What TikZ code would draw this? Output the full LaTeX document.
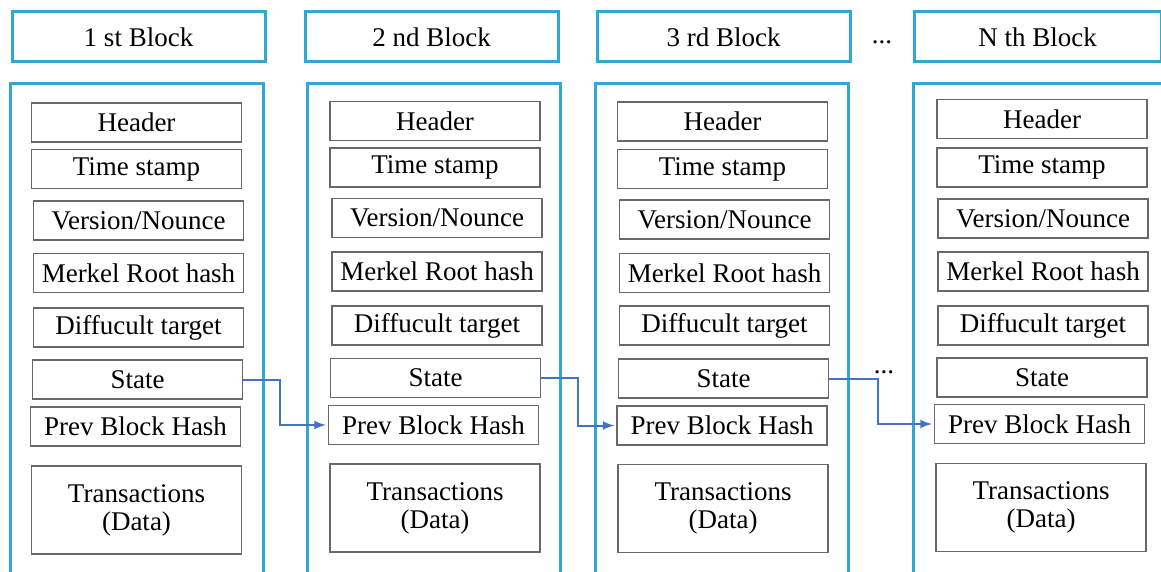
\documentclass[tikz,border=0pt]{standalone}
\usepackage{fontspec}
\setmainfont{Liberation Serif}
\usepackage{xcolor}
\usepackage{tikz}
\definecolor{blockblue}{RGB}{52,166,210}
\definecolor{fieldgray}{RGB}{105,105,105}
\definecolor{linkblue}{RGB}{68,114,196}
\tikzset{>=latex}

\begin{document}
\begin{tikzpicture}[x=0.5pt, y=-0.5pt, font=\rmfamily\fontsize{13.5}{14}\selectfont]
\tikzset{blockhead/.style={draw=blockblue, line width=1.5pt, minimum width=126.5pt, minimum height=25pt, inner sep=0pt}}
\tikzset{container/.style={draw=blockblue, line width=1.5pt, minimum width=126.5pt, minimum height=258pt, inner sep=0pt}}
\tikzset{field/.style={draw=fieldgray, line width=0.6pt, minimum width=105pt, minimum height=19.5pt, inner sep=1pt}}
\tikzset{txfield/.style={field, minimum height=44pt, align=center}}
\tikzset{link/.style={draw=linkblue, line width=1pt, ->, shorten >=1pt}}
    \useasboundingbox (0,0) rectangle (1161,572);
    \clip (0,0) rectangle (1161,572);

    \node[container] (box1) at (136.5,342) {};
    \node[blockhead] (head1) at (138.5,37) {1 st Block};
    \node[field] (hdr1) at (136.5,122.5) {Header};
    \node[field] (time1) at (136.5,169) {Time stamp};
    \node[field] (ver1) at (138.5,220.5) {Version/Nounce};
    \node[field] (merk1) at (138.5,273) {Merkel Root hash};
    \node[field] (diff1) at (138.5,327.5) {Diffucult target};
    \node[field] (state1) at (137.5,379.5) {State};
    \node[field] (prev1) at (135.5,426.5) {Prev Block Hash};
    \node[txfield] (tx1) at (136.5,510) {Transactions\\(Data)};

% % % % % % % % % % % % % % % % % % %
    \node[container] (box2) at (434,342) {};
    \node[blockhead] (head2) at (431.5,37) {2 nd Block};
    \node[field] (hdr2) at (435,121) {Header};
    \node[field] (time2) at (435,167.5) {Time stamp};
    \node[field] (ver2) at (437,218) {Version/Nounce};
    \node[field] (merk2) at (437,271.5) {Merkel Root hash};
    \node[field] (diff2) at (437,325.5) {Diffucult target};
    \node[field] (state2) at (435.5,378) {State};
    \node[field] (prev2) at (433.5,425) {Prev Block Hash};
    \node[txfield] (tx2) at (435,508) {Transactions\\(Data)};

% % % % % % % % % % % % % % % % % % %
    \node[container] (box3) at (721.5,342) {};
    \node[blockhead] (head3) at (723.5,37) {3 rd Block};
    \node[field] (hdr3) at (722.5,121.5) {Header};
    \node[field] (time3) at (722.5,169) {Time stamp};
    \node[field] (ver3) at (724.5,219.5) {Version/Nounce};
    \node[field] (merk3) at (724.5,273) {Merkel Root hash};
    \node[field] (diff3) at (724.5,325.5) {Diffucult target};
    \node[field] (state3) at (723.5,378.5) {State};
    \node[field] (prev3) at (722,425.5) {Prev Block Hash};
    \node[txfield] (tx3) at (723,508.5) {Transactions\\(Data)};

% % % % % % % % % % % % % % % % % % %
    \node[container] (boxN) at (1039.5,342) {};
    \node[blockhead, minimum width=123.5pt] (headN) at (1037.5,37) {N th Block};
    \node[field] (hdrN) at (1042,119) {Header};
    \node[field] (timeN) at (1042,167.5) {Time stamp};
    \node[field] (verN) at (1043,218.5) {Version/Nounce};
    \node[field] (merkN) at (1043,271.5) {Merkel Root hash};
    \node[field] (diffN) at (1043,325.5) {Diffucult target};
    \node[field] (stateN) at (1042,377.5) {State};
    \node[field] (prevN) at (1039.5,424) {Prev Block Hash};
    \node[txfield] (txN) at (1041,507.5) {Transactions\\(Data)};

    \node (dotsHead) at (882,42) {...};
    \node (dotsLink) at (884,372) {...};

% % % % % % % % % % % % % % % % % % %
    \coordinate (Bend1) at (280,400);
    \coordinate (Bend2) at (578,400);
    \coordinate (Bend3) at (878,400);

    \draw[link] (state1.east) -| (Bend1) |- (prev2.west);
    \draw[link] (state2.east) -| (Bend2) |- (prev3.west);
    \draw[link] (state3.east) -| (Bend3) |- (prevN.west);

\end{tikzpicture}
\end{document}
